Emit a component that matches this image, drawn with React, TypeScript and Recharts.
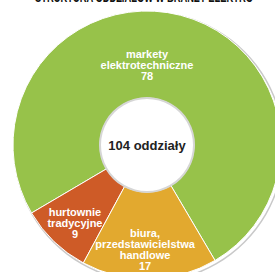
import React from "react";
import { PieChart, Pie, Cell } from "recharts";

const categories = ["markety elektrotechniczne", "hurtownie tradycyjne", "biura, przedstawicielstwa handlowe"];
const labelLines = [
  ["markety", "elektrotechniczne"],
  ["hurtownie", "tradycyjne"],
  ["biura,", "przedstawicielstwa", "handlowe"],
];
const values = [78, 9, 17];
const centerLabel = "104 oddziały";
const titleText = "STRUKTURA ODDZIAŁÓW W BRANŻY ELEKTRO";

const COLORS = ["#97C24A", "#CE5B27", "#E2A92F"];
const LABEL_POLAR = [
  { angle: 90, r: 87 },
  { angle: 224.5, r: 101 },
  { angle: 268.8, r: 92 },
];

const data = categories.map((name, i) => ({ name, value: values[i] }));
const total = values.reduce((a, b) => a + b, 0);
const START = -59.5;

const CX = 147;
const CY = 145;
const RAD = Math.PI / 180;

const renderLabel = (props: any) => {
  const { cx, cy, index } = props;
  const p = LABEL_POLAR[index];
  const x = cx + p.r * Math.cos(p.angle * RAD);
  const y = cy - p.r * Math.sin(p.angle * RAD);
  const lines = [...labelLines[index], String(values[index])];
  return (
    <text
      key={`lbl-${index}`}
      x={x}
      y={y}
      fill="#ffffff"
      textAnchor="middle"
      fontFamily="'Liberation Sans', Arial, sans-serif"
      fontWeight="bold"
      fontSize={11}
    >
      {lines.map((l, j) => (
        <tspan key={j} x={x} y={y + j * 11}>
          {l}
        </tspan>
      ))}
    </text>
  );
};

export default function App() {
  return (
    <div style={{ position: "absolute", left: 0, top: 0, width: 275, height: 272, background: "#fff" }}>
      <PieChart width={275} height={272} margin={{ top: 0, right: 0, bottom: 0, left: 0 }}>
        <text
          x={144}
          y={2}
          textAnchor="middle"
          fontFamily="'Liberation Sans', Arial, sans-serif"
          fontWeight="bold"
          fontSize={14}
          fill="#111"
          textLength={218}
          lengthAdjust="spacingAndGlyphs"
        >
          {titleText}
        </text>
        <text
          x={CX}
          y={CY + 4.5}
          textAnchor="middle"
          fontFamily="'Liberation Sans', Arial, sans-serif"
          fontWeight="bold"
          fontSize={13}
          fill="#222"
        >
          {centerLabel}
        </text>
        <Pie
          data={[{ name: "shadow", value: total }]}
          dataKey="value"
          cx={CX + 2}
          cy={CY + 2}
          innerRadius={134}
          outerRadius={135.5}
          stroke="none"
          fill="#c9c9c9"
          isAnimationActive={false}
        />
        <Pie
          data={data}
          dataKey="value"
          cx={CX}
          cy={CY}
          innerRadius={47}
          outerRadius={134}
          startAngle={START}
          endAngle={START + 360}
          stroke="#ffffff"
          strokeWidth={1}
          label={renderLabel}
          labelLine={false}
          isAnimationActive={false}
        >
          {data.map((d, i) => (
            <Cell key={d.name} fill={COLORS[i]} />
          ))}
        </Pie>
        <Pie
          data={[{ name: "ring", value: total }]}
          dataKey="value"
          cx={CX}
          cy={CY}
          innerRadius={46}
          outerRadius={48}
          stroke="none"
          fill="#d6d6d6"
          isAnimationActive={false}
        />
      </PieChart>
    </div>
  );
}
